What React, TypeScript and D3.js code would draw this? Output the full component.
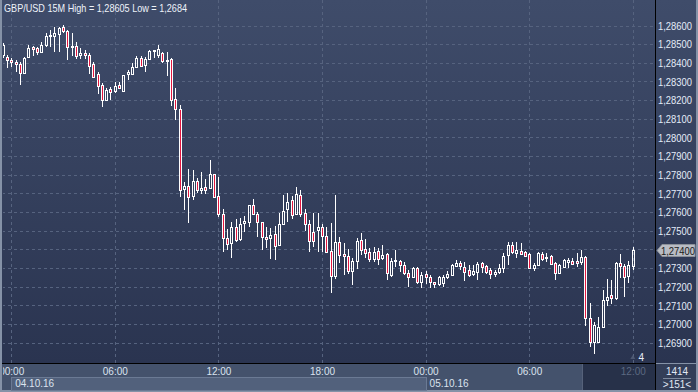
import React, { useEffect, useRef } from "react";
import * as d3 from "d3";

// GBP/USD 15M candles, 03.10.16 23:30 -> 05.10.16 12:00 (UTC)
const startTime = Date.UTC(2016, 9, 3, 23, 30);
const stepMs = 15 * 60 * 1000;

const opens = [
  1.28445, 1.28434, 1.28418, 1.28407, 1.28396, 1.28348, 1.28434, 1.28485, 1.28482, 1.28461,
  1.28498, 1.28544, 1.28546, 1.28557, 1.28595, 1.28573, 1.28493, 1.28493, 1.28442, 1.28453,
  1.28445, 1.28396, 1.28343, 1.28284, 1.28203, 1.28262, 1.28249, 1.28284, 1.28254, 1.28343,
  1.28343, 1.28378, 1.28428, 1.28391, 1.28423, 1.28466, 1.28445, 1.28453, 1.28415, 1.28423,
  1.28209, 1.28155, 1.27726, 1.27742, 1.27686, 1.27769, 1.27718, 1.27737, 1.27732, 1.27804,
  1.27689, 1.27592, 1.27464, 1.27437, 1.2752, 1.27458, 1.27544, 1.27547, 1.27641, 1.27592,
  1.27547, 1.27469, 1.27464, 1.27482, 1.27426, 1.27539, 1.27619, 1.27667, 1.27592, 1.27694,
  1.27595, 1.27539, 1.27496, 1.27507, 1.27523, 1.27474, 1.27394, 1.27257, 1.27444, 1.27378,
  1.27367, 1.27284, 1.27338, 1.27453, 1.27402, 1.2739, 1.27351, 1.27394, 1.27356, 1.27378,
  1.27265, 1.27338, 1.27342, 1.27319, 1.27273, 1.27256, 1.27304, 1.27226, 1.27269, 1.27256,
  1.27226, 1.27215, 1.27222, 1.27256, 1.27265, 1.27314, 1.27331, 1.2731, 1.27292, 1.27271,
  1.27283, 1.27328, 1.27315, 1.27292, 1.27271, 1.27283, 1.27301, 1.27373, 1.27426, 1.27385,
  1.27394, 1.2739, 1.27378, 1.27301, 1.27319, 1.27378, 1.27363, 1.27367, 1.27328, 1.27278,
  1.2731, 1.27337, 1.27342, 1.2734, 1.27337, 1.2736, 1.27033, 1.26906, 1.26908, 1.26988,
  1.27131, 1.27158, 1.2714, 1.27328, 1.27315, 1.2726, 1.27314,
];
const highs = [
  1.28509, 1.28445, 1.28428, 1.28418, 1.28407, 1.28434, 1.28498, 1.28493, 1.28487, 1.28514,
  1.28562, 1.28579, 1.28595, 1.28595, 1.28605, 1.28579, 1.28562, 1.28514, 1.28482, 1.28471,
  1.28455, 1.28407, 1.28353, 1.28294, 1.28268, 1.28273, 1.283, 1.283, 1.28337, 1.28364,
  1.28402, 1.28437, 1.28437, 1.28434, 1.28471, 1.28471, 1.28498, 1.28463, 1.28461, 1.28428,
  1.28268, 1.28177, 1.27764, 1.27834, 1.27828, 1.27785, 1.27817, 1.2778, 1.27882, 1.27807,
  1.27791, 1.27619, 1.27512, 1.27549, 1.27565, 1.27571, 1.27582, 1.27641, 1.27673, 1.276,
  1.27549, 1.27523, 1.27517, 1.27528, 1.27598, 1.27694, 1.27705, 1.27689, 1.27737, 1.27721,
  1.27619, 1.2756, 1.27598, 1.27598, 1.27539, 1.27523, 1.27544, 1.27694, 1.27471, 1.27437,
  1.27405, 1.27356, 1.27464, 1.27492, 1.27458, 1.2741, 1.27415, 1.2741, 1.27426, 1.27385,
  1.27356, 1.27399, 1.27346, 1.27335, 1.27292, 1.27308, 1.2731, 1.27283, 1.27288, 1.27265,
  1.27229, 1.2726, 1.27265, 1.27288, 1.27324, 1.27346, 1.27342, 1.27337, 1.27319, 1.27319,
  1.27337, 1.27337, 1.27319, 1.27301, 1.27292, 1.27323, 1.27382, 1.27439, 1.27444, 1.27439,
  1.27435, 1.27396, 1.2738, 1.27328, 1.2739, 1.27387, 1.27385, 1.27373, 1.27337, 1.27323,
  1.2735, 1.27355, 1.27355, 1.27385, 1.27399, 1.27367, 1.27117, 1.27015, 1.27042, 1.27185,
  1.27242, 1.27239, 1.27337, 1.27378, 1.27324, 1.27342, 1.27417,
];
const lows = [
  1.28428, 1.28375, 1.2838, 1.28353, 1.28284, 1.28343, 1.28434, 1.28439, 1.28445, 1.28455,
  1.28487, 1.28487, 1.28461, 1.28461, 1.28562, 1.28418, 1.28439, 1.28423, 1.28423, 1.28423,
  1.28343, 1.28321, 1.28235, 1.28166, 1.28203, 1.28203, 1.28241, 1.28265, 1.28252, 1.28311,
  1.28337, 1.28375, 1.2838, 1.28353, 1.28418, 1.28428, 1.28428, 1.28402, 1.28332, 1.28171,
  1.28096, 1.27683, 1.27614, 1.27544, 1.27667, 1.27705, 1.277, 1.277, 1.27729, 1.27681,
  1.27576, 1.27389, 1.27399, 1.27356, 1.27442, 1.27448, 1.27496, 1.27523, 1.27587, 1.27469,
  1.27399, 1.2741, 1.27351, 1.27346, 1.27421, 1.27533, 1.27549, 1.27565, 1.27587, 1.27576,
  1.27501, 1.27389, 1.27415, 1.27389, 1.27389, 1.27383, 1.27169, 1.27244, 1.27331, 1.27265,
  1.27271, 1.27212, 1.27298, 1.27373, 1.27356, 1.27335, 1.27335, 1.27319, 1.27346, 1.27239,
  1.27255, 1.27308, 1.27283, 1.27265, 1.27201, 1.27249, 1.27217, 1.27194, 1.27217, 1.27194,
  1.27194, 1.27206, 1.27201, 1.27244, 1.2726, 1.27308, 1.27292, 1.27235, 1.27256, 1.2726,
  1.27239, 1.27274, 1.27271, 1.27244, 1.27253, 1.27271, 1.27278, 1.27319, 1.27378, 1.27355,
  1.27373, 1.27363, 1.27298, 1.27288, 1.27314, 1.27342, 1.27337, 1.27319, 1.27239, 1.27271,
  1.27301, 1.27301, 1.27319, 1.2731, 1.27319, 1.26992, 1.26881, 1.2684, 1.26903, 1.26985,
  1.27099, 1.2711, 1.27131, 1.27248, 1.27149, 1.27224, 1.27292,
];
const closes = [
  1.28498, 1.28418, 1.28407, 1.28396, 1.28348, 1.28428, 1.28482, 1.28474, 1.28461, 1.28498,
  1.28546, 1.28552, 1.28562, 1.28587, 1.28573, 1.2849, 1.28495, 1.28439, 1.28453, 1.28445,
  1.28388, 1.28327, 1.28278, 1.28203, 1.28257, 1.28244, 1.28278, 1.28268, 1.28337, 1.28351,
  1.2838, 1.28431, 1.28383, 1.28423, 1.28466, 1.28469, 1.28474, 1.2841, 1.2842, 1.28203,
  1.28155, 1.27721, 1.27742, 1.27683, 1.27769, 1.27718, 1.27732, 1.27721, 1.27804, 1.27683,
  1.27592, 1.27464, 1.27431, 1.2752, 1.27453, 1.27539, 1.27552, 1.27641, 1.27592, 1.27549,
  1.27469, 1.27458, 1.2748, 1.27421, 1.27539, 1.27608, 1.27657, 1.27587, 1.27697, 1.27592,
  1.27539, 1.27448, 1.27445, 1.27523, 1.27472, 1.27386, 1.27257, 1.27441, 1.27373, 1.27365,
  1.27284, 1.2734, 1.27448, 1.27399, 1.27383, 1.27351, 1.27389, 1.27351, 1.27373, 1.27276,
  1.2734, 1.27346, 1.27319, 1.27274, 1.27256, 1.27301, 1.27226, 1.27265, 1.27256, 1.27229,
  1.27215, 1.27256, 1.27255, 1.27269, 1.27319, 1.27328, 1.27314, 1.27283, 1.27265, 1.27287,
  1.27324, 1.2731, 1.27283, 1.27271, 1.27283, 1.27301, 1.27367, 1.27426, 1.2739, 1.27399,
  1.27378, 1.27367, 1.27301, 1.27319, 1.27382, 1.2735, 1.27354, 1.27324, 1.27274, 1.27319,
  1.27346, 1.27346, 1.27324, 1.27328, 1.2736, 1.27033, 1.26908, 1.26997, 1.26985, 1.27131,
  1.27149, 1.27144, 1.27328, 1.27315, 1.27256, 1.27319, 1.274,
];

const dateLabels = ["04.10.16", "05.10.16"];

const FONT = "'Liberation Sans', Arial, sans-serif";

const App: React.FC = () => {
  const svgRef = useRef<SVGSVGElement | null>(null);

  useEffect(() => {
    const W = 698;
    const H = 392;
    const plot = { left: 2, right: 655, top: 0, bottom: 363 };

    const svg = d3.select(svgRef.current);
    svg.selectAll("*").remove();
    svg.attr("width", W).attr("height", H);

    const candles = opens.map((o, i) => ({
      t: new Date(startTime + i * stepMs),
      o,
      h: highs[i],
      l: lows[i],
      c: closes[i],
    }));

    const x = d3
      .scaleUtc()
      .domain([new Date(Date.UTC(2016, 9, 4, 0, 0)), new Date(Date.UTC(2016, 9, 5, 12, 0))])
      .range([11.7, 633.3]);
    const y = d3.scaleLinear().domain([1.269, 1.286]).range([343, 26]);
    const px = (v: number) => Math.floor(v) + 0.5;

    const defs = svg.append("defs");
    const grad = defs
      .append("linearGradient")
      .attr("id", "bg")
      .attr("x1", 0)
      .attr("y1", 0)
      .attr("x2", 0)
      .attr("y2", 1);
    grad.append("stop").attr("offset", "0%").attr("stop-color", "#3f4c6a");
    grad.append("stop").attr("offset", "100%").attr("stop-color", "#2a3450");
    defs
      .append("clipPath")
      .attr("id", "plotClip")
      .append("rect")
      .attr("x", plot.left + 1)
      .attr("y", plot.top)
      .attr("width", plot.right - plot.left - 1)
      .attr("height", plot.bottom - plot.top);
    defs
      .append("clipPath")
      .attr("id", "axisClip")
      .append("rect")
      .attr("x", 3)
      .attr("y", 364)
      .attr("width", 652)
      .attr("height", 26);

    // frame + panels
    svg.append("rect").attr("width", W).attr("height", H).attr("fill", "#8592a7");
    svg
      .append("rect")
      .attr("x", plot.left)
      .attr("y", plot.top)
      .attr("width", plot.right - plot.left)
      .attr("height", plot.bottom)
      .attr("fill", "url(#bg)");
    svg
      .append("rect")
      .attr("x", 656)
      .attr("y", 0)
      .attr("width", 40)
      .attr("height", plot.bottom)
      .attr("fill", "url(#bg)");
    svg
      .append("rect")
      .attr("x", plot.left)
      .attr("y", 364)
      .attr("width", plot.right - plot.left)
      .attr("height", 26)
      .attr("fill", "#44526c");
    svg.append("rect").attr("x", 656).attr("y", 364).attr("width", 40).attr("height", 26).attr("fill", "#333e58");

    // date boxes
    const day0 = new Date(Date.UTC(2016, 9, 4));
    const day1 = new Date(Date.UTC(2016, 9, 5));
    svg
      .append("rect")
      .attr("x", px(x(day0)))
      .attr("y", 377.5)
      .attr("width", px(x(day1)) - px(x(day0)))
      .attr("height", 13)
      .attr("fill", "#52617c")
      .attr("stroke", "#6b7a94");

    // "future" zone
    const lastX = x(candles[candles.length - 1].t);
    svg
      .append("rect")
      .attr("x", 582)
      .attr("y", 364)
      .attr("width", plot.right - 582)
      .attr("height", 26)
      .attr("fill", "#273149");
    svg
      .append("line")
      .attr("x1", 582.5)
      .attr("x2", 582.5)
      .attr("y1", 364)
      .attr("y2", 390)
      .attr("stroke", "#56627a");

    // grid
    const yTicks = y.ticks(17);
    const xTicks = x.ticks(d3.utcHour.every(6) as d3.TimeInterval);
    const grid = svg.append("g").attr("clip-path", "url(#plotClip)");
    grid
      .selectAll("line.h")
      .data(yTicks)
      .enter()
      .append("line")
      .attr("x1", plot.left)
      .attr("x2", plot.right)
      .attr("y1", (d) => px(y(d)))
      .attr("y2", (d) => px(y(d)))
      .attr("stroke", "#56637f")
      .attr("stroke-dasharray", "3,3");
    grid
      .selectAll("line.v")
      .data(xTicks)
      .enter()
      .append("line")
      .attr("x1", (d) => px(x(d)))
      .attr("x2", (d) => px(x(d)))
      .attr("y1", plot.top)
      .attr("y2", plot.bottom)
      .attr("stroke", "#56637f")
      .attr("stroke-dasharray", "3,3");

    // candles
    const cg = svg.append("g").attr("clip-path", "url(#plotClip)");
    candles.forEach((d) => {
      const cx = px(x(d.t));
      const top = Math.round(y(Math.max(d.o, d.c)));
      const bot = Math.max(Math.round(y(Math.min(d.o, d.c))), top + 1);
      const up = d.c >= d.o;
      cg.append("line")
        .attr("x1", cx)
        .attr("x2", cx)
        .attr("y1", Math.round(y(d.h)))
        .attr("y2", top)
        .attr("stroke", "#ffffff");
      cg.append("line")
        .attr("x1", cx)
        .attr("x2", cx)
        .attr("y1", bot)
        .attr("y2", Math.round(y(d.l)))
        .attr("stroke", "#ffffff");
      cg.append("rect")
        .attr("x", cx - 1)
        .attr("y", top + 0.5)
        .attr("width", 2)
        .attr("height", bot - top)
        .attr("fill", up ? "none" : "#e3163f")
        .attr("stroke", "#ffffff");
    });

    // separators
    svg
      .append("line")
      .attr("x1", plot.left)
      .attr("x2", 656)
      .attr("y1", 363.5)
      .attr("y2", 363.5)
      .attr("stroke", "#000000");
    svg
      .append("line")
      .attr("x1", 655.5)
      .attr("x2", 655.5)
      .attr("y1", 0)
      .attr("y2", 390)
      .attr("stroke", "#000000");

    // title
    svg
      .append("text")
      .attr("x", 4)
      .attr("y", 12)
      .attr("font-family", FONT)
      .attr("font-size", 11)
      .attr("fill", "#eef3fa")
      .attr("textLength", 183)
      .attr("lengthAdjust", "spacingAndGlyphs")
      .text("GBP/USD 15M High = 1,28605 Low = 1,2684");

    // price axis (the current-price tag hides the label it covers)
    const fmt = (v: number) => d3.format(".5f")(v).replace(".", ",");
    const last = candles[candles.length - 1];
    const ty = Math.round(y(last.c)) + 0.5;
    svg
      .append("g")
      .selectAll("text")
      .data(yTicks.filter((d) => Math.abs(y(d) - ty) > 9))
      .enter()
      .append("text")
      .attr("x", 658)
      .attr("y", (d) => y(d) + 3.8)
      .attr("font-family", FONT)
      .attr("font-size", 10.5)
      .attr("fill", "#e4ecf8")
      .attr("textLength", 34)
      .attr("lengthAdjust", "spacingAndGlyphs")
      .text((d) => fmt(d));

    // current price tag
    svg
      .append("path")
      .attr("d", `M657,${ty} L662,${ty - 6} L695,${ty - 6} L695,${ty + 6} L662,${ty + 6} Z`)
      .attr("fill", "#b8bcc4")
      .attr("stroke", "#8a9099");
    svg
      .append("text")
      .attr("x", 661)
      .attr("y", ty + 4)
      .attr("font-family", FONT)
      .attr("font-size", 10.5)
      .attr("fill", "#1a1a1a")
      .attr("textLength", 34)
      .attr("lengthAdjust", "spacingAndGlyphs")
      .text(fmt(last.c));

    // time axis
    const tf = d3.utcFormat("%H:%M");
    svg
      .append("g")
      .attr("clip-path", "url(#axisClip)")
      .selectAll("text")
      .data(xTicks)
      .enter()
      .append("text")
      .attr("x", (d) => x(d))
      .attr("y", 375)
      .attr("text-anchor", "middle")
      .attr("font-family", FONT)
      .attr("font-size", 10)
      .attr("fill", (d) => (x(d) > 582 ? "#5c6981" : "#dbe3ef"))
      .text((d) => tf(d));

    svg
      .append("g")
      .selectAll("text")
      .data([day0, day1])
      .enter()
      .append("text")
      .attr("x", (d) => x(d) + 3.5)
      .attr("y", 386.5)
      .attr("font-family", FONT)
      .attr("font-size", 10)
      .attr("fill", "#dbe3ef")
      .text((_, i) => dateLabels[i]);

    // bar counter
    svg
      .append("text")
      .attr("x", lastX + 8)
      .attr("y", 361)
      .attr("text-anchor", "middle")
      .attr("font-family", FONT)
      .attr("font-size", 10)
      .attr("fill", "#e8eef8")
      .text("4");
    svg
      .append("path")
      .attr("d", `M${lastX - 3},359 L${lastX - 0.5},355 L${lastX + 2},359 Z`)
      .attr("fill", "#4d5872");

    // right-bottom box
    svg
      .append("text")
      .attr("x", 677)
      .attr("y", 375)
      .attr("text-anchor", "middle")
      .attr("font-family", FONT)
      .attr("font-size", 10)
      .attr("fill", "#e0e8f4")
      .text("1414");
    svg
      .append("line")
      .attr("x1", 663)
      .attr("x2", 691)
      .attr("y1", 378.5)
      .attr("y2", 378.5)
      .attr("stroke", "#7c889c");
    svg
      .append("text")
      .attr("x", 677)
      .attr("y", 388)
      .attr("text-anchor", "middle")
      .attr("font-family", FONT)
      .attr("font-size", 10)
      .attr("fill", "#e0e8f4")
      .text(">151<");
  }, []);

  return (
    <div style={{ position: "absolute", left: 0, top: 0 }}>
      <svg ref={svgRef} style={{ display: "block" }}></svg>
    </div>
  );
};

export default App;
